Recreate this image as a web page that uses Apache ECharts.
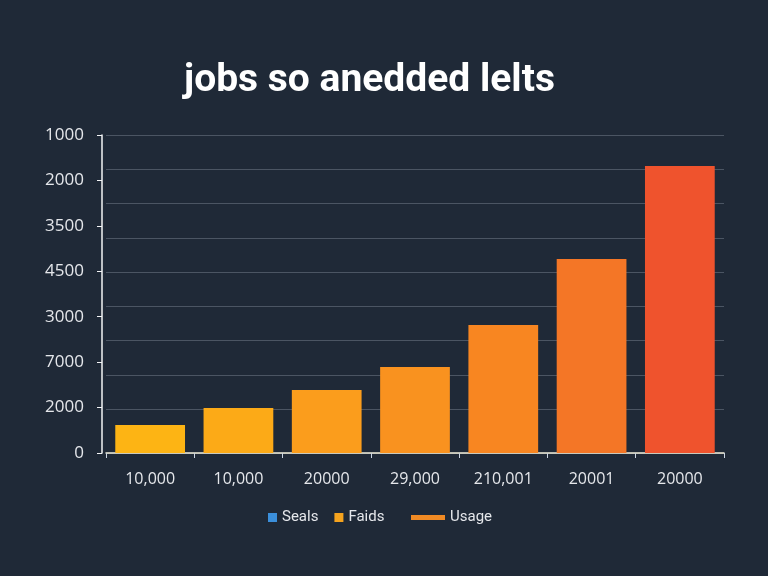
<!DOCTYPE html>
<html><head><meta charset="utf-8">
<script src="https://cdn.jsdelivr.net/npm/echarts@6/dist/echarts.min.js"></script>
<style>html,body{margin:0;padding:0;background:#1f2937;}#c{width:768px;height:576px;}</style>
</head><body><div id="c"></div>
<script>
var titleText = 'jobs so anedded lelts';
var categories = ['10,000', '10,000', '20000', '29,000', '210,001', '20001', '20000'];
var yTickLabels = ['0', '2000', '7000', '3000', '4500', '3500', '2000', '1000'];
var faidsValues = [280, 450, 630, 860, 1280, 1940, 2870];
var barColors = ['#fdb414', '#fcaa17', '#fb9d1c', '#f9921f', '#f88621', '#f47626', '#ef532d'];
var legendNames = ['Seals', 'Faids', 'Usage'];

var splitColors = [];
for (var i = 0; i < 10; i++) splitColors.push(i < 9 ? '#4b5563' : 'rgba(0,0,0,0)');

var chart = echarts.init(document.getElementById('c'));
chart.setOption({
  backgroundColor: '#1f2937',
  animation: false,
  title: {text: titleText, left: 179, top: 57,
    textStyle: {color: '#ffffff', fontSize: 39, fontWeight: 'bold', fontFamily: 'Roboto'}},
  legend: [{
    top: 505, left: 263, itemGap: 16, itemWidth: 9, itemHeight: 9,
    textStyle: {color: '#e5e7eb', fontSize: 15, fontFamily: 'Roboto'},
    data: [
      {name: legendNames[0], icon: 'rect', itemStyle: {color: '#3b8fdb'}},
      {name: legendNames[1], icon: 'rect', itemStyle: {color: '#f5a31e'}}
    ]
  }, {
    top: 505, left: 406, itemWidth: 34, itemHeight: 5, itemGap: 2,
    textStyle: {color: '#e5e7eb', fontSize: 15, fontFamily: 'Roboto'},
    data: [{name: legendNames[2], icon: 'rect', itemStyle: {color: '#f08a24'}}]
  }],
  grid: {left: 106, right: 44, top: 135, bottom: 123},
  xAxis: {
    type: 'category', data: categories,
    axisLine: {lineStyle: {color: '#f3f0dc', width: 1.5}},
    axisTick: {show: true, length: 5, lineStyle: {color: '#cbd5e1'}},
    axisLabel: {color: '#e5e7eb', fontSize: 16, margin: 18, fontFamily: 'Open Sans'}
  },
  yAxis: [
    {type: 'category', data: yTickLabels, boundaryGap: false, position: 'left', offset: 4,
      axisLine: {show: true, lineStyle: {color: '#f3f4f6', width: 1.5}},
      axisTick: {show: true, length: 5, lineStyle: {color: '#f3f4f6'}},
      axisLabel: {color: '#e5e7eb', fontSize: 17, margin: 18, fontFamily: 'Open Sans'},
      splitLine: {show: false}},
    {type: 'value', min: 0, max: 3180, show: false, splitLine: {show: false}},
    {type: 'value', inverse: true, min: 0, max: 9.28, interval: 1, position: 'left',
      axisLine: {show: false}, axisTick: {show: false}, axisLabel: {show: false},
      splitLine: {show: true, lineStyle: {color: splitColors, width: 1.2}}}
  ],
  series: [
    {name: legendNames[0], type: 'bar', xAxisIndex: 0, yAxisIndex: 1, data: [], itemStyle: {color: '#3b8fdb'}},
    {name: legendNames[1], type: 'bar', xAxisIndex: 0, yAxisIndex: 1, barWidth: '79%', barGap: '-100%',
      data: faidsValues.map(function (v, i) { return {value: v, itemStyle: {color: barColors[i]}}; }),
      itemStyle: {color: '#f5a31e'}},
    {name: legendNames[2], type: 'line', xAxisIndex: 0, yAxisIndex: 1, data: [],
      lineStyle: {color: '#f08a24', width: 5}, itemStyle: {color: '#f08a24'}, symbol: 'none'}
  ]
});
</script></body></html>
